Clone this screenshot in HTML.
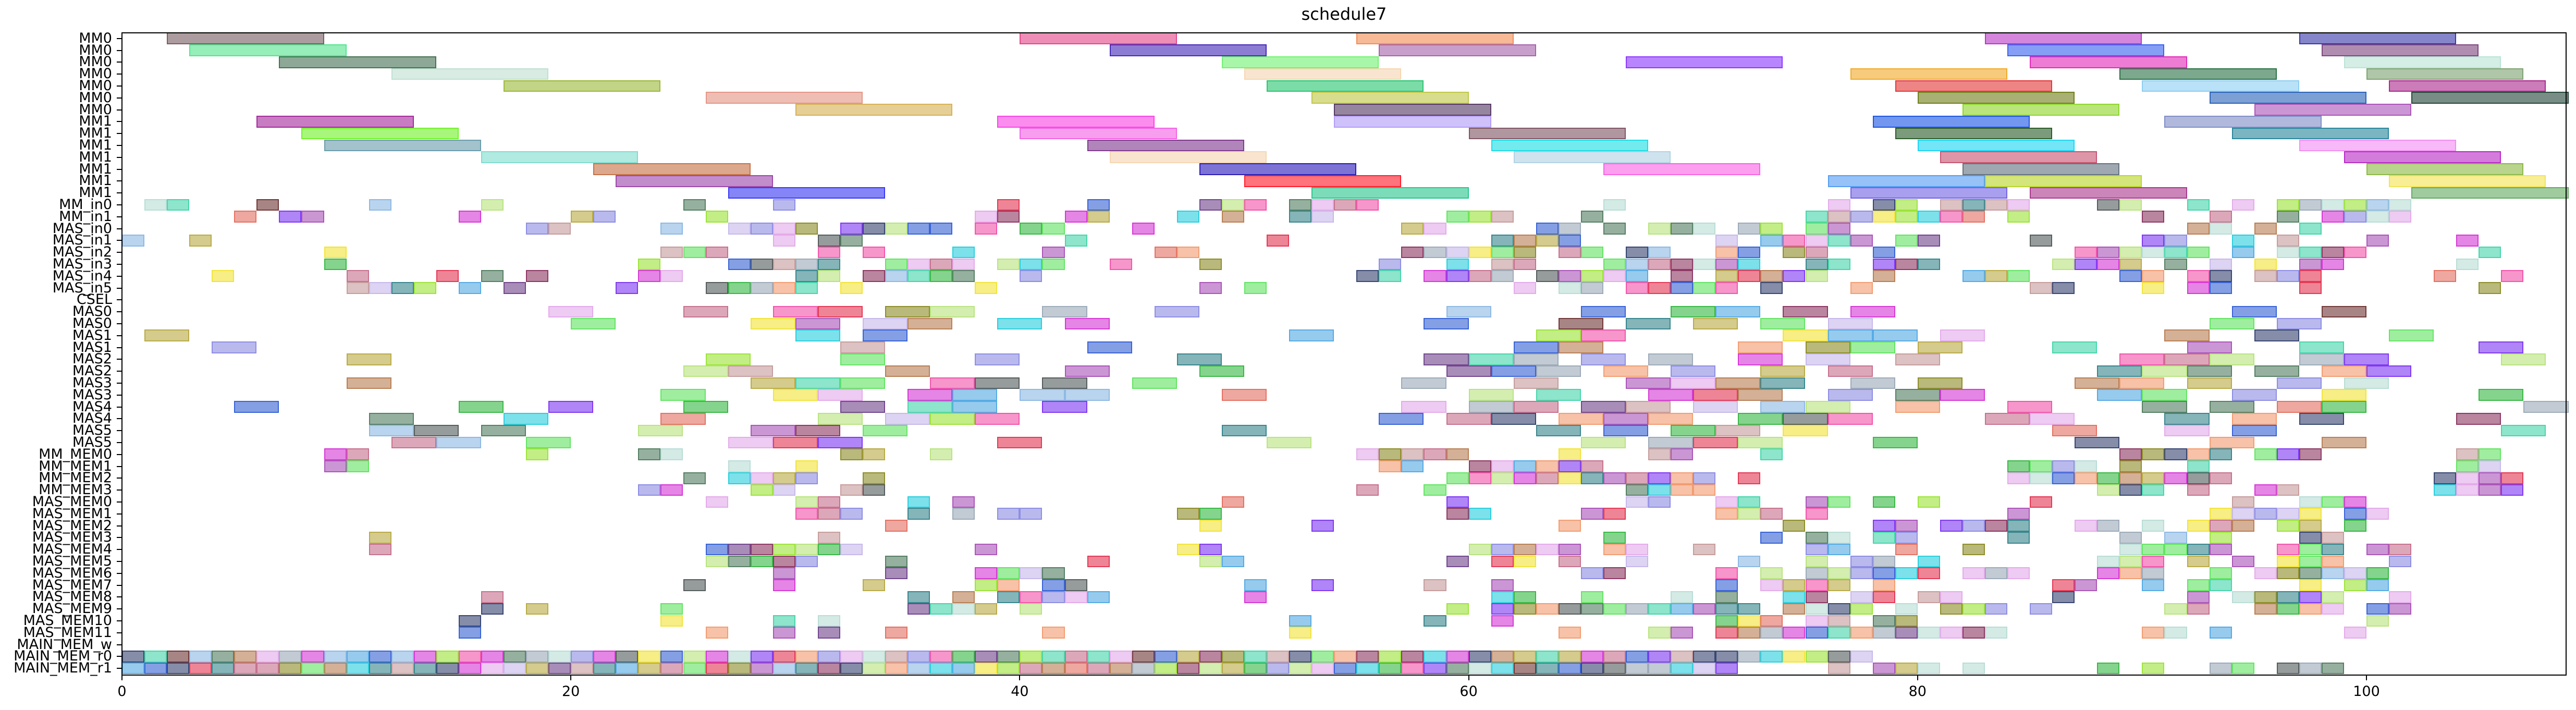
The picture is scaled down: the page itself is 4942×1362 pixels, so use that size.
<!DOCTYPE html>
<html><head><meta charset="utf-8"><style>
html,body{margin:0;padding:0;background:#fff;}
#c{position:relative;width:4942px;height:1362px;overflow:hidden;background:#fff;font-family:"DejaVu Sans","Liberation Sans",sans-serif;}
.b{position:absolute;box-sizing:border-box;}
.yl{position:absolute;left:0;width:215px;text-align:right;font-size:27px;line-height:23px;height:23px;white-space:nowrap;color:#000;}
.yt{position:absolute;left:224px;width:10px;height:2px;background:#000;}
.xt{position:absolute;top:1295px;width:2px;height:10px;background:#000;}
.xl{position:absolute;top:1311px;width:120px;text-align:center;font-size:27px;color:#000;}
</style></head><body><div id="c">
<div style="position:absolute;left:0;width:5157px;top:8px;text-align:center;font-size:32px;color:#000;">schedule7</div>
<div style="position:absolute;left:233px;top:62px;width:4691px;height:1234px;box-sizing:border-box;border:2.5px solid #000;z-index:5;"></div>
</div>
<script>
var C=document.getElementById('c');
var X0=234,U=43.06,T0=62.3,P=22.8;
var M={a:'#e02040',b:'#f040a0',c:'#d020d0',d:'#a040b0',e:'#7020f0',f:'#603080',g:'#2050d0',h:'#40a0e0',i:'#10c8d8',j:'#207880',k:'#30d0a0',l:'#20b030',m:'#50e050',n:'#90e020',o:'#808010',p:'#b0a030',q:'#f0e020',r:'#b07040',s:'#602020',t:'#802050',u:'#203060',v:'#404848',w:'#407050',x:'#c0b0e8',y:'#f09060',z:'#8080e0',A:'#c06080',B:'#b0d8d0',C:'#c09090',D:'#e0a0e8',E:'#b0e070',F:'#90a0b0',G:'#e06050',H:'#80b0e0'};
function rgba(h,a){var r=parseInt(h.substr(1,2),16),g=parseInt(h.substr(3,2),16),b=parseInt(h.substr(5,2),16);return 'rgba('+r+','+g+','+b+','+a+')';}
function bar(u,row,w,col){var d=document.createElement('div');d.className='b';
d.style.left=(X0+u*U)+'px';d.style.top=(T0+row*P)+'px';d.style.width=(w*U)+'px';d.style.height=P+'px';
d.style.background=rgba(col,0.55);d.style.border='2px solid '+rgba(col,0.75);C.appendChild(d);}
var MM=[
[[2,'#6a4a50'],[40,'#e0307a'],[55,'#f08040'],[83,'#b020c0'],[97,'#2020a0']],
[[3,'#40e080'],[44,'#3010b0'],[56,'#9a50a0'],[84,'#2050f0'],[98,'#703070']],
[[7,'#306040'],[49,'#60f060'],[67,'#8020ff'],[85,'#e010b0'],[99,'#b0e0d0']],
[[12,'#b8dccc'],[50,'#f4d0a8'],[77,'#f0a010'],[89,'#106030'],[100,'#709860']],
[[17,'#90b020'],[51,'#10c060'],[79,'#e02020'],[90,'#80c8f0'],[101,'#a01080']],
[[26,'#e08878'],[53,'#b8c030'],[80,'#607000'],[93,'#1050b0'],[102,'#0a3020']],
[[30,'#d0a840'],[54,'#402050'],[82,'#80d010'],[95,'#a040b0']],
[[6,'#9a1090'],[39,'#f830e0'],[54,'#a890f8'],[78,'#0040e0'],[91,'#7080c0']],
[[8,'#60f010'],[40,'#f050e0'],[60,'#704050'],[79,'#104810'],[94,'#107890']],
[[9,'#5890a0'],[43,'#702080'],[61,'#00d8e0'],[80,'#00d0f0'],[97,'#f080f0']],
[[16,'#70d8c8'],[44,'#f4d0a8'],[62,'#a8cce0'],[81,'#c04060'],[99,'#b010c0']],
[[21,'#c06030'],[48,'#1000b0'],[66,'#f850e0'],[82,'#506070'],[100,'#80b030']],
[[22,'#9030a0'],[50,'#ff0010'],[76,'#4090f0'],[83,'#b0d010'],[101,'#f0e040']],
[[27,'#2020f0'],[53,'#10c080'],[77,'#6050e0'],[85,'#a02080'],[102,'#50a050']]];
MM.forEach(function(r,i){r.forEach(function(b){bar(b[0],i,7,b[1]);});});
var R={
14:"1B 2k 6s 11H 16E 25w 29z 39a 43g 48f 49E 50b 52w 53D 54A 55b 66B 76D 78u 79n 81C 82j 83C 84D 88v 89E 92k 94D 96n 97F 98B 99n 100H 101B",
15:"5G 7e 8d 15c 20p 21z 26n 38D 39t 42c 43p 47i 49r 52j 53x 59m 60n 61C 65w 75k 76C 77z 78q 79n 80i 81b 82G 84n 90t 93A 96w 98c 99z 100B 101D",
16:"18z 19C 24H 27x 28z 29D 30o 32e 33u 34E 35g 36g 38b 40l 41m 45c 57p 58D 63g 64F 66w 68E 69w 70B 72F 73n 75m 76d 92r 93B 95r 97k",
17:"0H 3p 29D 31v 32w 42k 51a 61j 62r 63p 64g 71x 73h 74b 75D 76k 77d 79m 80f 85v 90e 91z 94i 96C 100d 104c",
18:"9q 24C 25m 26A 31b 33b 37i 41d 46G 47y 57t 58F 59x 60q 61m 62o 64A 65m 67u 68H 71y 72g 74o 75A 78g 87b 88d 89E 90B 91k 92m 94h 96B 97k 98t 99b 105k",
19:"9l 23n 27g 28v 29C 30F 31j 34m 35D 36A 37D 39E 40i 41m 44b 48o 56z 59i 61C 62A 66m 67H 68A 69t 70B 71d 72i 75j 76k 78e 79t 80j 86E 87e 88c 89p 91w 93x 95q 97d 98c 104B",
20:"4q 10A 14a 16w 18t 23c 24D 30j 31E 33t 34H 35k 36l 37w 40z 55u 56k 58c 59e 60A 61F 63v 64d 65n 66D 67h 69t 71p 72a 73r 74e 75E 78r 82h 83p 84m 89g 90y 92b 93u 95C 96z 97a 103G 106b",
21:"10C 11x 12j 13n 15h 17f 22e 26v 27l 28F 29y 30k 32q 38q 48d 50m 62D 64B 65F 67b 68a 69g 70m 71b 73u 77y 85C 86u 90q 92c 93g 97a 105o",
23:"19D2 25A2 29b2 31a2 34o2 36E2 41F2 46z2 59H2 65g2 69l2 71h2 74t2 77c2 94g2 98s2",
24:"20m2 28q2 30d2 33x2 35r2 39i2 42c2 58g2 64s2 67j2 70p2 73m2 76x2 93m2 96z2",
25:"1p2 30i2 33g2 52h2 63n2 65b2 74q2 76h2 78h2 81D2 91r2 95u2 101m2",
26:"4z2 32C2 43g2 62g2 64r2 72y2 75o2 77m2 80p2 86k2 92d2 97k2 105e2",
27:"10p2 26n2 32m2 38z2 47j2 58f2 60k2 62F2 65z2 68F2 72c2 75x2 79C2 89b2 91A2 93E2 97F2 99e2 106E2",
28:"25E2 27C2 34r2 42d2 48l2 59f2 61g2 63F2 66y2 69z2 73p2 76A2 88j2 90E2 92w2 95w2 98y2 100e2",
29:"10r2 28p2 30k2 32m2 36b2 38v2 41v2 45m2 57F2 62C2 67d2 69D2 71r2 73j2 77F2 80o2 87r2 89y2 92p2 96z2 99B2",
30:"24m2 29q2 31D2 35c2 37h2 40H2 42H2 49G2 60E2 63k2 68c2 70a2 72r2 76z2 79w2 81c2 88h2 90m2 94z2 98q2 105l2",
31:"5g2 15l2 19e2 25l2 32f2 35k2 37h2 41e2 57D2 60F2 62A2 65f2 67C2 70x2 73H2 75E2 79y2 84b2 90w2 93w2 96G2 98l2 107F2",
32:"11w2 17i2 24G2 31E2 34x2 36n2 38b2 56g2 59A2 61u2 64y2 66d2 68y2 72l2 74v2 76b2 83A2 85D2 91j2 94y2 97u2 104t2",
33:"11H2 13v2 16w2 23E2 28d2 30t2 33m2 49j2 63j2 66g2 69l2 71C2 74q2 86G2 91D2 94g2 106k2",
34:"12A2 14H2 18m2 27D2 29a2 31e2 39a2 51E2 65E2 68F2 70a2 72E2 78l2 87u2 93y2 98r2",
35:"9c 10A 18n 23w 24B 32o 33p 36E 55D 56o 57C 58A 59r 64q 68C 69d 73k 89t 90o 91u 92y 93j 95m 96e 97t 104C 105m",
36:"9d 10m 27B 30q 56y 57h 60t 61D 62h 63y 64e 65A 84l 85m 86z 87B 89o 92k 104m 105x",
37:"25w 27i 28D 29p 30z 33o 59m 60b 61E 62c 63A 64q 65j 66d 67A 68e 69y 70z 72a 84D 85B 86g 87y 88l 89r 90p 91c 92v 93A 103u 104D 105d 106a",
38:"23z 24c 28n 29x 32C 33v 55A 58m 67w 68i 69y 70y 88E 89u 90k 92A 95c 96C 103i 104D 105d 106e",
39:"26D 30E 31A 35i 37d 49G 59e 67x 68z 71D 72k 75d 76m 78l 80n 85a 94C 97B 98m 99c",
40:"30b 31A 32z 35j 37F 39z 40z 47o 48l 59t 60i 65d 66a 71y 72E 73A 75b 84d 93q 94x 95z 96x 97q 99g 100D",
41:"34G 48q 53e 64y 74o 78e 79d 81e 82z 83t 84j 87D 88F 90B 92q 93A 94r 96n 97p 99l",
42:"11p 31C 66l 73g 75w 76B 78k 79z 84j 89F 91H 93n 97u 98C",
43:"11A 26g 27f 28t 29n 30E 31l 32x 38d 47q 48e 60E 61z 62r 63D 64d 66y 67D 70C 75z 76h 79G 82o 89B 90m 91m 92j 93d 96b 97m 98j 100d 101A",
44:"26E 27w 28l 29t 30z 34w 43a 48E 49h 59f 61a 62q 64A 67x 72H 75E 77z 78F 80i 88B 89E 90b 92p 94d 96q 97m 98y 101z",
45:"29d 34f 38c 39m 40x 41w 65z 66t 71b 73E 75F 76E 77z 78g 79i 80a 82D 83F 84D 88c 89y 90F 93m 95D 96o 97w 98H 99x 100l",
46:"25v 29c 33p 38n 39y 41g 42v 50h 53e 58C 61d 71g 73D 74p 75b 76p 78y 86a 87d 90h 92m 93k 97q 99n 100h",
47:"16A 35j 37r 39j 40b 41z 42D 43h 50c 61i 62l 65m 69B 71w 74i 75t 77x 78a 80C 81D 86u 92d 94B 95o 96j 97e 98E 101D",
48:"16u 18p 24m 35f 36k 37B 38p 40E 59n 61e 62o 63y 64v 65w 66m 67F 68k 69h 70d 71j 72j 74r 75B 76u 77n 79B 81o 82n 83z 85z 91E 92A 95r 96l 97y 98D 100g 101d",
49:"15u 24q 29k 31B 52h 58j 61c 71l 72q 73G 75D 76C 78w 79o 100E",
50:"15g 26y 29d 31f 34G 41y 52q 64y 68E 69d 71a 72r 73F 74c 75g 76k 77y 78F 79f 80B 81D 82t 83B 90y 91B 93h 99D",
53:"76C 78d 79p 80B 82B 88l 90n 93F 94m 96v 97F 98w"
};
for(var k in R){R[k].split(' ').forEach(function(t){var m=t.match(/^(\d+)([A-Za-z])(\d?)$/);if(m)bar(+m[1],+k,m[3]?+m[3]:1,M[m[2]]);});}
var keys='abcdefghijklmnopqrstuvwxyzABCDEFGH';var s=7;
function rnd(){s=(s*1103515245+12345)%2147483648;return s/2147483648;}
for(var u=0;u<78;u++)bar(u,52,1,M[keys[Math.floor(rnd()*keys.length)]]);
for(var u=0;u<72;u++)bar(u,53,1,M[keys[Math.floor(rnd()*keys.length)]]);
var L=['MM0','MM0','MM0','MM0','MM0','MM0','MM0','MM1','MM1','MM1','MM1','MM1','MM1','MM1','MM_in0','MM_in1','MAS_in0','MAS_in1','MAS_in2','MAS_in3','MAS_in4','MAS_in5','CSEL','MAS0','MAS0','MAS1','MAS1','MAS2','MAS2','MAS3','MAS3','MAS4','MAS4','MAS5','MAS5','MM_MEM0','MM_MEM1','MM_MEM2','MM_MEM3'];
for(var i=0;i<12;i++)L.push('MAS_MEM'+i);
L.push('MAIN_MEM_w','MAIN_MEM_r0','MAIN_MEM_r1');
L.forEach(function(t,i){var cy=T0+i*P+P/2;var d=document.createElement('div');d.className='yl';d.style.top=(cy-12)+'px';d.textContent=t;C.appendChild(d);
var tk=document.createElement('div');tk.className='yt';tk.style.top=(cy-1)+'px';C.appendChild(tk);});
for(var n=0;n<=5;n++){var x=X0+n*20*U;var tk=document.createElement('div');tk.className='xt';tk.style.left=(x-1)+'px';C.appendChild(tk);
var d=document.createElement('div');d.className='xl';d.style.left=(x-60)+'px';d.textContent=String(n*20);C.appendChild(d);}
</script>
</body></html>
